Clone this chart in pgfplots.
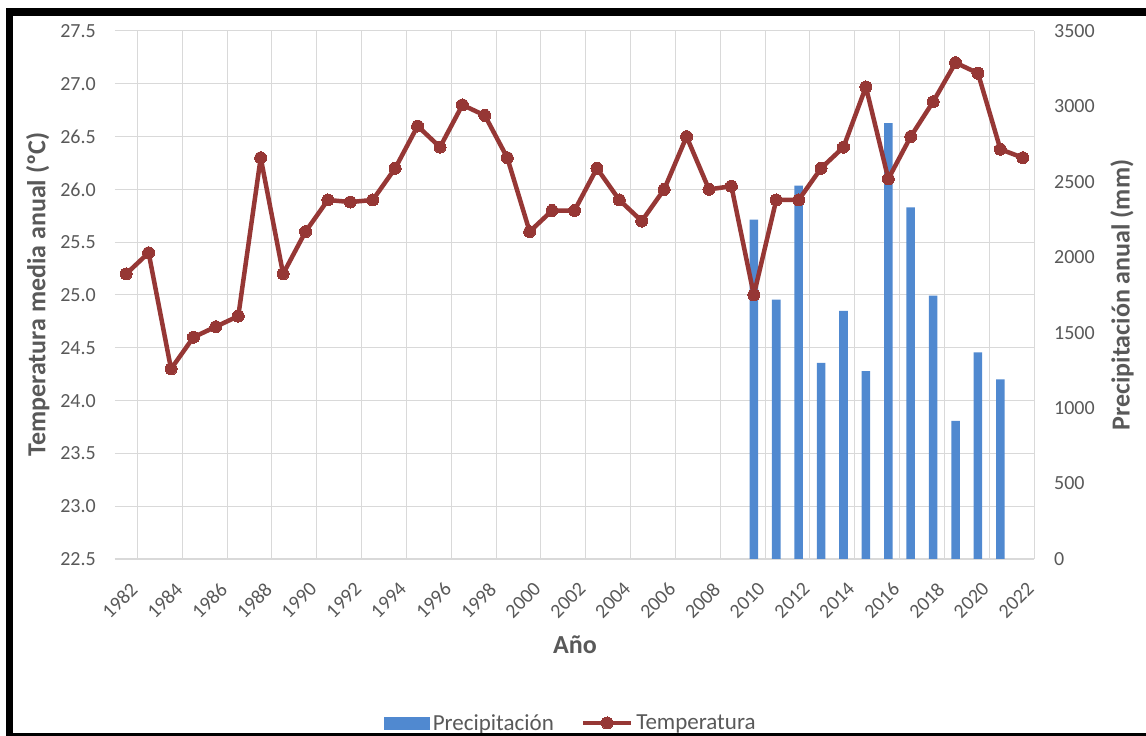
\documentclass[border=0pt]{standalone}
\usepackage{fontspec}
\setmainfont{Carlito}
\usepackage{pgfplots}
\usepackage{pgfplotstable}
\pgfplotsset{compat=1.18}
\definecolor{barblue}{RGB}{80,137,208}
\definecolor{linered}{RGB}{150,55,53}
\definecolor{gridgray}{RGB}{217,217,217}
\definecolor{txtgray}{RGB}{89,89,89}

\pgfplotstableread{
year temp
1982 25.2
1983 25.4
1984 24.3
1985 24.6
1986 24.7
1987 24.8
1988 26.3
1989 25.2
1990 25.6
1991 25.9
1992 25.88
1993 25.9
1994 26.2
1995 26.6
1996 26.4
1997 26.8
1998 26.7
1999 26.3
2000 25.6
2001 25.8
2002 25.8
2003 26.2
2004 25.9
2005 25.7
2006 26.0
2007 26.5
2008 26.0
2009 26.03
2010 25.0
2011 25.9
2012 25.9
2013 26.2
2014 26.4
2015 26.97
2016 26.1
2017 26.5
2018 26.83
2019 27.2
2020 27.1
2021 26.38
2022 26.3
}\temptable

\pgfplotstableread{
year prec
2010 2250
2011 1720
2012 2475
2013 1300
2014 1645
2015 1245
2016 2890
2017 2330
2018 1745
2019 915
2020 1370
2021 1190
}\prectable

\pgfplotsset{
  mybase/.style={
    scale only axis, width=919pt, height=528pt,
    at={(115pt,177pt)}, anchor=south west,
    xmin=1981.5, xmax=2022.5,
    major tick length=0pt, minor tick length=0pt,
    /pgf/number format/assume math mode=true,
    tick label style={font=\fontsize{20}{24}\selectfont, text=txtgray},
    label style={font=\bfseries\fontsize{26}{30}\selectfont, text=txtgray},
  },
  barlegend/.style={legend image code/.code={\fill[barblue] (0pt,-6pt) rectangle (45pt,6pt);}},
  linelegend/.style={legend image code/.code={\draw[mark repeat=2,mark phase=2,##1] plot coordinates {(0pt,0pt) (24pt,0pt) (48pt,0pt)};}},
}

\begin{document}
\begin{tikzpicture}
\useasboundingbox (0,0) rectangle (1146pt,736pt);
\fill[white] (0,0) rectangle (1146pt,736pt);

% temperature axis: grid, ticks, labels
\begin{axis}[mybase,
  ymin=22.5, ymax=27.5,
  ytick={22.5,23.0,...,27.5},
  yticklabel style={/pgf/number format/fixed, /pgf/number format/fixed zerofill, /pgf/number format/precision=1, inner sep=0pt},
  yticklabel shift=19pt,
  xtick={1982,1984,...,2022},
  xticklabels={1982,1984,1986,1988,1990,1992,1994,1996,1998,2000,2002,2004,2006,2008,2010,2012,2014,2016,2018,2020,2022},
  xticklabel style={xshift=3pt, yshift=-22pt, rotate=45, anchor=north east, inner sep=0pt},
  minor xtick={1982.5,1984.5,...,2022.5},
  xminorgrids=true, xmajorgrids=false, ymajorgrids=true,
  grid style={gridgray, line width=1pt},
  minor grid style={gridgray, line width=1pt},
  axis x line*=bottom, axis y line*=left,
  y axis line style={draw=none},
  x axis line style={draw=gridgray, line width=1.2pt},
  xlabel={Año},
  xlabel style={at={(axis description cs:0.5005,-0.163)}, anchor=center},
  ylabel={Temperatura media anual (ºC)},
  ylabel style={at={(axis description cs:-0.084,0.501)}, anchor=center},
]
\end{axis}

% precipitation axis (right)
\begin{axis}[mybase,
  ymin=0, ymax=3500,
  ytick={0,500,...,3500},
  yticklabel style={/pgf/number format/1000 sep={}, inner sep=0pt},
  yticklabel shift=20pt,
  axis y line*=right, axis x line=none,
  y axis line style={draw=none},
  ylabel={Precipitación anual (mm)},
  ylabel style={at={(axis description cs:1.0958,0.5)}, anchor=center},
]
\addplot[ybar, bar width=0.38, fill=barblue, draw=none] table[x=year, y=prec] {\prectable};
\end{axis}

% temperature line on top
\begin{axis}[mybase,
  ymin=22.5, ymax=27.5, hide axis,
  legend columns=2,
  legend style={at={(axis description cs:0.4967,-0.3106)}, anchor=center,
    draw=none, fill=none, font=\fontsize{23}{27}\selectfont, text=txtgray,
    /tikz/every even column/.append style={column sep=24pt},
    nodes={inner sep=3pt}},
  legend cell align=left,
]
\addlegendimage{barlegend}
\addlegendentry{Precipitación}
\addplot[linered, line width=4.5pt, line join=round, mark=*, mark size=6pt, mark options={fill=linered, draw=linered, line width=0pt}, linelegend]
  table[x=year, y=temp] {\temptable};
\addlegendentry{Temperatura}
\end{axis}

% outer frame
\fill[black] (6pt,0pt) rectangle (13pt,728pt);
\fill[black] (6pt,720pt) rectangle (1146pt,728pt);
\fill[black] (6pt,0pt) rectangle (1146pt,3pt);
\end{tikzpicture}
\end{document}
